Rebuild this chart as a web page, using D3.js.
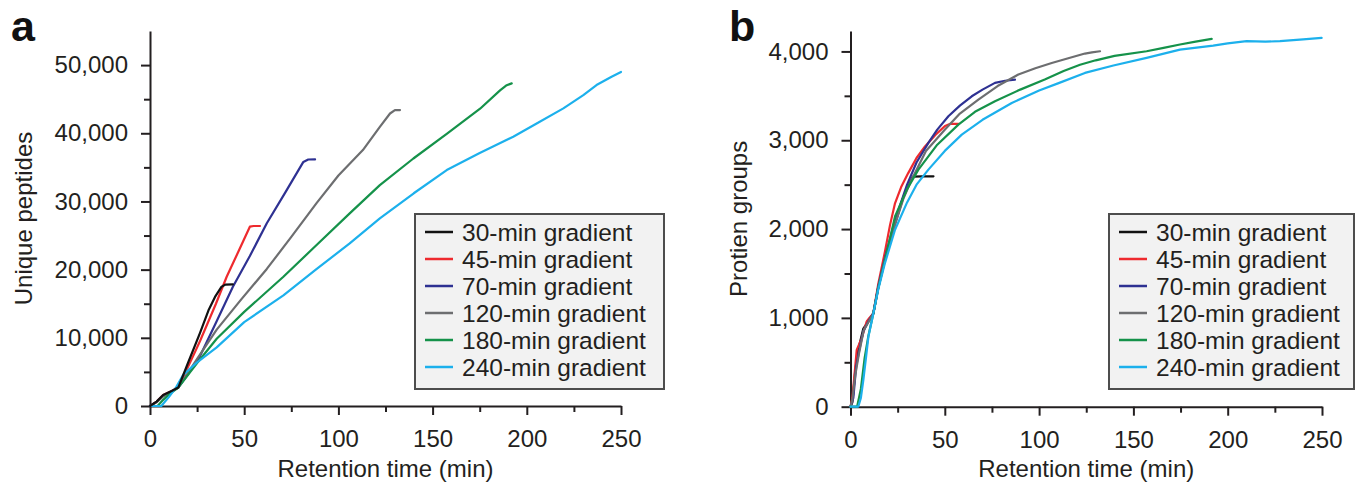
<!doctype html>
<html>
  <head>
    <script src="https://cdn.jsdelivr.net/npm/d3@7/dist/d3.min.js"></script>
    <style>
      body, html {
        margin: 0;
        background: #fff;
      }
      svg {
        display: block;
        font-family: "Liberation Sans", Arial, sans-serif;
      }
      .axis path, .axis line {
        stroke: #231f20;
        stroke-width: 2;
      }
      .axis text {
        font-size: 24px;
        fill: #231f20;
        font-family: "Liberation Sans", Arial, sans-serif;
      }
      text.title {
        font-size: 24px;
        fill: #231f20;
      }
      path.trace {
        fill: none;
        stroke-width: 2.2;
        stroke-linejoin: round;
        stroke-linecap: round;
      }
      .legend rect {
        fill: #f2f2f2;
        stroke: #4d4d4d;
        stroke-width: 2;
      }
      .legend line {
        stroke-width: 2.5;
      }
      .legend text {
        font-size: 24.5px;
        fill: #231f20;
      }
      text.panel {
        font-family: "Liberation Sans Narrow", "Liberation Sans", sans-serif;
        font-weight: bold;
        font-size: 43px;
        fill: #111;
      }
    </style>
  </head>
  <body>
    <svg width="1365" height="491"></svg>
    <script>
      var gradients = ["30-min gradient", "45-min gradient", "70-min gradient",
                       "120-min gradient", "180-min gradient", "240-min gradient"];
      var colors = ["#111111", "#ee2a2e", "#2e3192", "#6d6e70", "#15924a", "#1cb0ec"];

      var xTicks = [0, 50, 100, 150, 200, 250];
      var xMinor = [25, 75, 125, 175, 225];

      // panel a: unique peptides vs retention time (min)
      var peptideTicks = [0, 10000, 20000, 30000, 40000, 50000];
      var peptideMinor = [5000, 15000, 25000, 35000, 45000];
      var peptides30 = [[0,0],[3.5,640],[7,1600],[11.5,2200],[15,2700],[20,6200],[26.5,10700],[31,14000],[34.5,16000],[38,17500],[40,17800],[44,17850]];
      var peptides45 = [[0,0],[3.5,640],[7,1600],[11.5,2200],[15,2700],[17.7,4300],[22,6800],[26.5,9500],[35,15000],[40.7,18960],[47,22700],[53,26300],[55,26400],[58.4,26400]];
      var peptides70 = [[0,0],[3.5,600],[7,1500],[11.5,2150],[15,2700],[20,4600],[26.5,7300],[35,12200],[44,17500],[53,22000],[62,26800],[72,31400],[81.4,35800],[84,36150],[87.6,36170]];
      var peptides120 = [[0,0],[3.5,550],[7,1400],[11.5,2100],[15,2700],[25,6900],[35.4,11200],[48,15500],[62,20100],[75,24800],[88.5,29800],[100,33800],[113,37540],[122,40950],[127.4,42900],[130,43400],[132.7,43400]];
      var peptides180 = [[0,0],[4,0],[7,900],[11,1900],[15,2700],[25,6300],[35.4,9870],[50,13800],[70.8,18960],[88,23500],[106,28250],[122,32400],[139.8,36300],[157.5,39900],[175.2,43600],[185.8,46300],[189,47000],[192,47320]];
      var peptides240 = [[0,0],[6,0],[10,1300],[14,2800],[17.7,4600],[25,6400],[35.4,8600],[50,12300],[70.8,16230],[88,20000],[106,23850],[122,27520],[140,31200],[157.5,34600],[175,37100],[192.8,39490],[205,41400],[219.4,43650],[230,45600],[237,47070],[245,48300],[250,49000]];

      // panel b: protein groups vs retention time (min)
      var proteinTicks = [0, 1000, 2000, 3000, 4000];
      var proteinMinor = [500, 1500, 2500, 3500];
      var proteins30 = [[0,0],[1,50],[2.5,400],[4.1,640],[6.8,880],[9.5,960],[12.1,1050],[14.7,1340],[18.3,1660],[23.6,2060],[28,2360],[33,2590],[38,2594],[44,2594]];
      var proteins45 = [[0,0],[1,100],[2.5,450],[3.3,640],[5.9,770],[8.6,960],[10,1000],[12.1,1050],[14.7,1380],[18.3,1750],[21,2050],[23.6,2290],[27,2480],[30.6,2630],[35,2800],[39.5,2930],[45,3060],[50.1,3160],[53,3185],[57.2,3185]];
      var proteins70 = [[0,0],[1.5,100],[3,450],[4.5,620],[6.8,850],[9.5,960],[12.1,1050],[14.7,1350],[18.3,1680],[23.6,2100],[30,2500],[35,2750],[41.3,2970],[46,3120],[51.9,3270],[58,3390],[64.3,3495],[70,3570],[76.6,3646],[82,3670],[87.2,3683]];
      var proteins120 = [[0,0],[1,80],[2.5,350],[4.5,600],[7,860],[10,970],[12.1,1050],[14.7,1340],[18.3,1660],[23.6,2050],[28,2340],[32.4,2556],[40,2880],[50.1,3120],[58,3300],[67.8,3458],[78,3610],[89,3740],[98,3810],[106.7,3870],[115,3920],[124.3,3976],[128,3990],[132.3,4002]];
      var proteins180 = [[0,0],[3.5,0],[5.5,200],[7.5,550],[9.5,800],[12.1,1050],[14.7,1330],[18.3,1650],[23.6,2142],[30,2450],[36,2669],[46,2950],[57.2,3176],[66,3320],[76.6,3439],[90,3570],[103,3683],[113,3780],[121.7,3850],[130,3900],[140,3950],[157,4002],[166,4040],[174.7,4078],[183,4110],[191.5,4142]];
      var proteins240 = [[0,0],[4.1,0],[5.5,100],[6.8,300],[8.2,550],[9.5,790],[12.1,1050],[14.7,1320],[18.3,1620],[23.6,1992],[30,2300],[35,2500],[41.3,2669],[50,2880],[59,3063],[70,3230],[85.5,3420],[100,3560],[110,3640],[124.3,3758],[139.4,3841],[157,3928],[174.7,4021],[192.3,4066],[200,4090],[210,4115],[220,4110],[227.7,4115],[240,4135],[249.8,4153]];

      var svg = d3.select("svg");

      function drawPanel(cfg) {
        var g = svg.append("g");
        var x = d3.scaleLinear().domain([0, 250]).range(cfg.xRange);
        var y = d3.scaleLinear().domain([0, cfg.yMax]).range([cfg.y0, 31]);

        // minor ticks first, then major axes on top
        g.append("g").attr("class", "axis")
          .attr("transform", "translate(0," + cfg.y0 + ")")
          .call(d3.axisBottom(x).tickValues(xMinor).tickSize(6).tickFormat(""))
          .select(".domain").remove();
        g.append("g").attr("class", "axis")
          .attr("transform", "translate(" + cfg.xRange[0] + ",0)")
          .call(d3.axisLeft(y).tickValues(cfg.minor).tickSize(6).tickFormat(""))
          .select(".domain").remove();

        g.append("g").attr("class", "axis")
          .attr("transform", "translate(0," + cfg.y0 + ")")
          .call(d3.axisBottom(x).tickValues(xTicks).tickSize(9).tickSizeOuter(0).tickPadding(15));
        g.append("g").attr("class", "axis")
          .attr("transform", "translate(" + cfg.xRange[0] + ",0)")
          .call(d3.axisLeft(y).tickValues(cfg.ticks).tickSize(9).tickSizeOuter(0)
            .tickPadding(13).tickFormat(d3.format(",")));

        var line = d3.line().x(d => x(d[0])).y(d => y(d[1]));
        g.selectAll("path.trace")
          .data(cfg.series)
          .enter()
          .append("path")
            .attr("class", "trace")
            .attr("stroke", (d, i) => colors[i])
            .attr("d", line);
        // in panel a the 30-min trace sits on top
        if (cfg.blackOnTop) g.select("path.trace").raise();

        g.append("text").attr("class", "title")
          .attr("text-anchor", "middle")
          .attr("x", (cfg.xRange[0] + cfg.xRange[1]) / 2)
          .attr("y", 477)
          .text("Retention time (min)");
        g.append("text").attr("class", "title")
          .attr("text-anchor", "middle")
          .attr("transform", "translate(" + cfg.yTitleX + "," + (cfg.y0 + 31) / 2 + ") rotate(-90)")
          .text(cfg.yTitle);

        g.append("text").attr("class", "panel")
          .attr("x", cfg.labelX).attr("y", 41)
          .text(cfg.label);

        var lg = g.append("g").attr("class", "legend")
          .attr("transform", "translate(" + cfg.legendX + ",214)");
        lg.append("rect").attr("width", cfg.legendW).attr("height", 175);
        var row = lg.selectAll("g.row")
          .data(gradients)
          .enter()
          .append("g")
            .attr("class", "row")
            .attr("transform", (d, i) => "translate(0," + (18 + i * 27) + ")");
        row.append("line")
          .attr("x1", 10).attr("x2", 38)
          .attr("stroke", (d, i) => colors[i]);
        row.append("text")
          .attr("x", 47).attr("dy", "0.35em")
          .text(d => d);
      }

      drawPanel({
        label: "a", labelX: 11, blackOnTop: true,
        xRange: [150, 621], y0: 406, yMax: 55000,
        ticks: peptideTicks, minor: peptideMinor,
        series: [peptides30, peptides45, peptides70, peptides120, peptides180, peptides240],
        yTitle: "Unique peptides", yTitleX: 32,
        legendX: 415, legendW: 249
      });

      drawPanel({
        label: "b", labelX: 729, blackOnTop: false,
        xRange: [850.5, 1322], y0: 406.7, yMax: 4230,
        ticks: proteinTicks, minor: proteinMinor,
        series: [proteins30, proteins45, proteins70, proteins120, proteins180, proteins240],
        yTitle: "Protien groups", yTitleX: 747,
        legendX: 1109, legendW: 245
      });
    </script>
  </body>
</html>
